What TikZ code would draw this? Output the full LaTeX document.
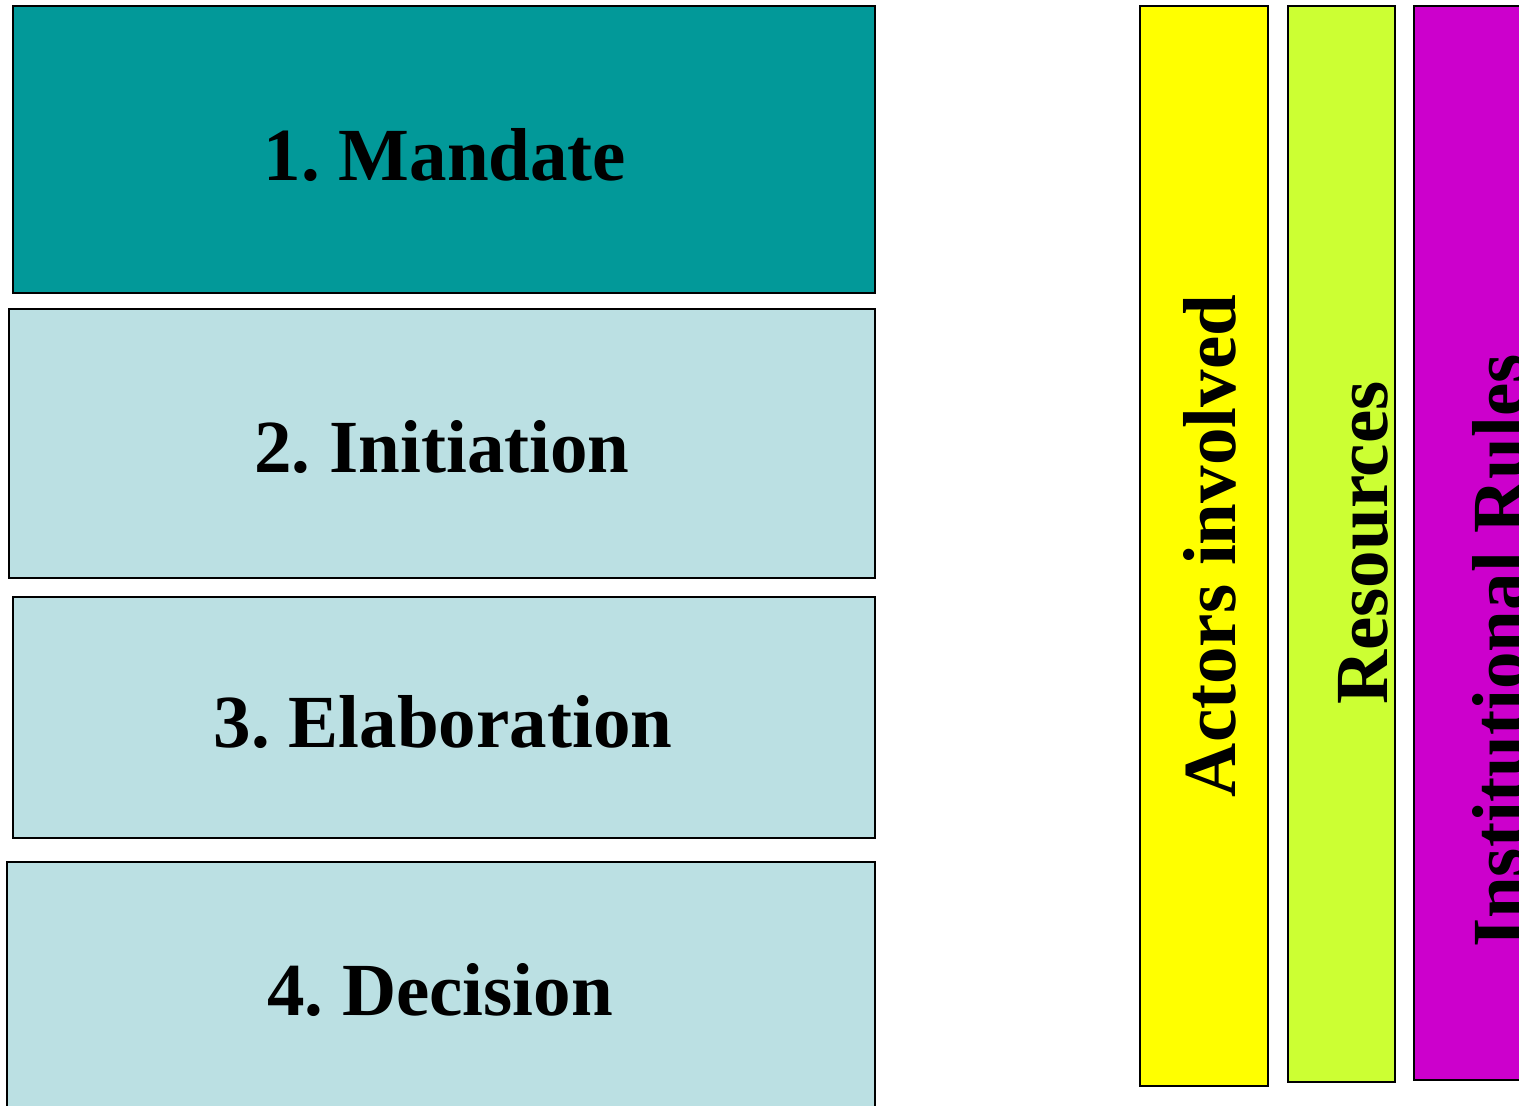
\documentclass[tikz,border=0pt]{standalone}
\usepackage{fontspec}
\setmainfont{Liberation Serif}
\definecolor{teal1}{HTML}{029999}
\definecolor{pale}{HTML}{BBE0E3}
\definecolor{yel}{HTML}{FFFF00}
\definecolor{lime}{HTML}{CCFF33}
\definecolor{mag}{HTML}{CC00CC}
\begin{document}
\frenchspacing
\begin{tikzpicture}[x=0.5pt,y=-0.5pt]
\tikzset{
  stage/.style={draw=black,line width=1pt},
  lbl/.style={font=\fontsize{37.5}{45}\selectfont\bfseries,inner sep=0pt,anchor=base},
  vlbl/.style={font=\fontsize{37.5}{45}\selectfont\bfseries,inner sep=0pt,anchor=base,rotate=90}
}
\useasboundingbox (0,0) rectangle (1519,1105);
\begin{scope}
\clip (0,0) rectangle (1519,1105);
\filldraw[stage,fill=teal1] (13,6) rectangle (875,293);
\filldraw[stage,fill=pale] (9,309) rectangle (875,578);
\filldraw[stage,fill=pale] (13,597) rectangle (875,838);
\filldraw[stage,fill=pale] (7,862) rectangle (875,1120);
\filldraw[stage,fill=yel] (1140,6) rectangle (1268,1086);
\filldraw[stage,fill=lime] (1288,6) rectangle (1395,1082);
\filldraw[stage,fill=mag] (1414,6) rectangle (1540,1080);
\node[lbl] (m) at (445,180) {1. Mandate};
\node[lbl] (i) at (442,472) {2. Initiation};
\node[lbl] (e) at (443,747) {3. Elaboration};
\node[lbl] (d) at (440,1015) {4. Decision};
\node[vlbl] (a) at (1235,546) {Actors involved};
\node[vlbl] (r) at (1387,543) {Resources};
\node[vlbl] (ir) at (1524,651) {Institutional Rules};
\end{scope}
\end{tikzpicture}
\end{document}
